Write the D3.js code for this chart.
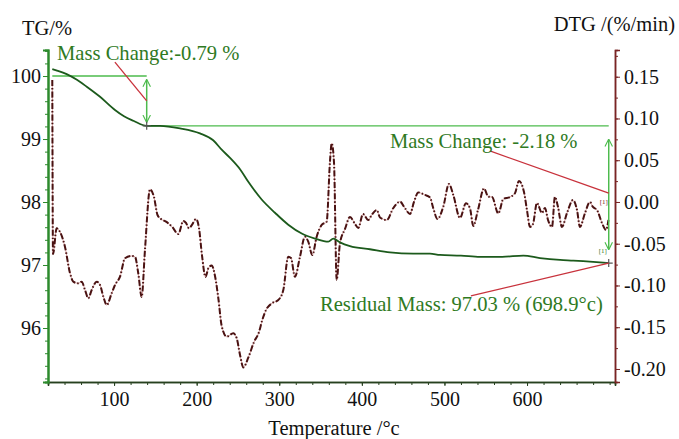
<!DOCTYPE html>
<html>
<head>
<meta charset="utf-8">
<script src="https://cdn.jsdelivr.net/npm/d3@7"></script>
<style>
  html, body { margin: 0; padding: 0; background: #fff; }
  svg { display: block; font-family: "Liberation Serif", "Times New Roman", serif; }
</style>
</head>
<body>
<svg id="chart" width="679" height="439"></svg>
<script>
// Thermogravimetric (TG) curve: temperature (°C) and residual mass (%)
const tgTemp  = [25.2, 30, 42.6, 55, 66.9, 83, 101.1, 112, 123.3, 139.5, 155.6, 179.8, 204, 220, 230.3, 240.4, 252.5, 262.5, 278.7, 294.8, 310.9, 327.2, 343.3, 359.4, 365.4, 373.5, 385.6, 409.8, 434, 462.2, 482.5, 494.6, 520, 543, 570, 595.5, 615.7, 640, 656, 680, 698.9];
const tgValue = [100.11, 100.09, 100.03, 99.94, 99.83, 99.67, 99.46, 99.36, 99.29, 99.21, 99.21, 99.17, 99.09, 98.98, 98.83, 98.70, 98.52, 98.32, 98.04, 97.83, 97.64, 97.50, 97.42, 97.37, 97.42, 97.36, 97.30, 97.25, 97.20, 97.18, 97.18, 97.16, 97.15, 97.13, 97.13, 97.15, 97.11, 97.08, 97.07, 97.05, 97.03];

// Derivative (DTG) curve: temperature (°C) and mass-loss rate (%/min)
const dtgTemp  = [25.2, 26.05, 30.5, 34.5, 40.6, 46.6, 50.6, 56.7, 60.8, 64.8, 68.8, 72.9, 79.0, 83.0, 87.0, 91.1, 97.1, 101.1, 107.2, 113.2, 121.3, 125.3, 129.3, 133.4, 137.4, 143.5, 148.3, 152.6, 156.8, 162.9, 170.1, 177.8, 183.8, 187.1, 190.7, 194.3, 199.2, 202.8, 206.4, 210.7, 214.3, 218.2, 222.2, 226.2, 230.3, 236.4, 244.3, 248.5, 252.5, 256.5, 262.6, 269.4, 275.5, 279.1, 284.0, 291.2, 298.8, 304.9, 310.9, 314.2, 319.0, 325.1, 331.1, 335.1, 340.0, 345.3, 351.4, 357.4, 361.4, 363.5, 366.3, 369.5, 373.5, 379.6, 385.6, 391.7, 395.7, 401.4, 407.8, 411.9, 418.0, 422.0, 430.1, 438.1, 446.2, 452.2, 458.3, 463.1, 468.3, 476.4, 482.5, 486.5, 491.6, 498.6, 505.5, 510.7, 518.8, 526.1, 530.9, 534.9, 540.6, 547.9, 553.1, 557.6, 565.2, 571.3, 579.4, 585.4, 590.2, 596.3, 599.9, 603.6, 607.2, 612.0, 618.1, 621.7, 625.4, 630.2, 633.8, 637.5, 642.3, 648.4, 655.6, 660.5, 664.1, 670.2, 676.2, 679.8, 684.7, 690.7, 695.6, 698.6];
const dtgValue = [0.146, -0.0623, -0.0315, -0.0359, -0.0539, -0.0850, -0.0954, -0.0974, -0.0954, -0.1054, -0.1153, -0.1054, -0.0954, -0.0994, -0.1134, -0.1234, -0.1093, -0.0994, -0.0895, -0.0674, -0.0647, -0.0655, -0.0854, -0.1138, -0.0575, 0.0152, 0.0060, -0.0156, -0.0204, -0.0236, -0.0296, -0.0383, -0.0228, -0.0251, -0.0315, -0.0275, -0.0204, -0.0311, -0.0635, -0.0898, -0.0790, -0.0760, -0.0886, -0.1150, -0.1485, -0.1613, -0.1572, -0.1632, -0.1832, -0.1982, -0.1862, -0.1677, -0.1557, -0.1425, -0.1293, -0.1213, -0.1174, -0.1054, -0.0655, -0.0671, -0.0895, -0.0655, -0.0416, -0.0475, -0.0635, -0.0416, -0.0275, -0.0236, 0.0483, 0.0703, 0.0467, -0.0934, -0.0495, -0.0323, -0.0180, -0.0263, -0.0311, -0.0144, -0.0216, -0.0156, -0.0096, -0.0186, -0.0216, -0.0072, 0.0004, -0.0075, -0.0144, 0.0000, 0.0114, 0.0084, 0.0054, -0.0075, -0.0204, -0.0056, 0.0216, 0.0084, -0.0192, -0.0016, -0.0075, -0.0287, -0.0096, 0.0162, 0.0063, 0.0060, -0.0138, 0.0036, 0.0060, 0.0104, 0.0251, 0.0120, -0.0096, -0.0299, -0.0263, -0.0012, -0.0132, -0.0072, -0.0216, -0.0299, 0.0060, -0.0060, -0.0299, -0.0132, 0.0024, -0.0096, -0.0299, -0.0132, 0.0000, -0.0060, -0.0096, -0.0251, -0.0335, -0.0216];

// Axis ticks
const xTicks = [100, 200, 300, 400, 500, 600];
const tgTicks = [96, 97, 98, 99, 100];
const dtgTicks = [-0.20, -0.15, -0.10, -0.05, 0.00, 0.05, 0.10, 0.15];

// Mass-change analysis
const stepStart = 100.0;        // reference level at start
const stepTemp1 = 139.5;        // end of first step (°C)
const stepMass1 = 99.21;        // mass after first step (%)
const endTemp = 698.9;          // final temperature (°C)
const endMass = 97.03;          // residual mass (%)
const labelChange1 = "Mass Change:-0.79 %";
const labelChange2 = "Mass Change: -2.18 %";
const labelResidual = "Residual Mass: 97.03 % (698.9°c)";

const svg = d3.select("#chart");
const plotL = 48, plotR = 615, plotT = 50, plotB = 382;

const x = d3.scaleLinear().domain([20, 706.5]).range([plotL, plotR]);
const yTG = d3.scaleLinear().domain([95.143, 100.413]).range([plotB, plotT]);
const yDTG = d3.scaleLinear().domain([-0.2156, 0.182]).range([plotB, plotT]);

const green = "#2f7a1f", brightGreen = "#4dbb4d", tgColor = "#1c5a1c";
const dtgColor = "#4a1212", axisRed = "#7a2424", leadRed = "#c8323c";
const fs = 20;

// ---- Axes ----
function styleAxis(g, color, width) {
  g.select(".domain").attr("stroke", color).attr("stroke-width", width);
  g.selectAll(".tick line").attr("stroke", color);
  g.selectAll(".tick text").attr("fill", "#111").attr("font-size", fs)
    .attr("font-family", "Liberation Serif, Times New Roman, serif");
}

// bottom
const xMinor = d3.range(20, 707, 20);
svg.append("g").attr("transform", `translate(0,${plotB})`)
  .call(d3.axisBottom(x).tickValues(xMinor).tickSize(3).tickFormat(""))
  .call(g => styleAxis(g, "#27401f", 1.5));
svg.append("g").attr("transform", `translate(0,${plotB})`)
  .call(d3.axisBottom(x).tickValues(xTicks).tickSize(4).tickPadding(6).tickFormat(d3.format("d")))
  .call(g => styleAxis(g, "#27401f", 1.5));

// left (TG)
const tgMinor = d3.range(95.2, 100.41, 0.2);
svg.append("g").attr("transform", `translate(${plotL},0)`)
  .call(d3.axisLeft(yTG).tickValues(tgMinor).tickSize(3).tickFormat(""))
  .call(g => styleAxis(g, "#2d8a2d", 2));
svg.append("g").attr("transform", `translate(${plotL},0)`)
  .call(d3.axisLeft(yTG).tickValues(tgTicks).tickSize(5).tickPadding(2).tickFormat(d3.format("d")))
  .call(g => styleAxis(g, "#2d8a2d", 2));

// right (DTG)
const dtgMinor = d3.range(-0.2, 0.181, 0.025);
svg.append("g").attr("transform", `translate(${plotR},0)`)
  .call(d3.axisRight(yDTG).tickValues(dtgMinor).tickSize(3).tickFormat(""))
  .call(g => styleAxis(g, axisRed, 1.5));
svg.append("g").attr("transform", `translate(${plotR},0)`)
  .call(d3.axisRight(yDTG).tickValues(dtgTicks).tickSize(5).tickPadding(4)
        .tickFormat(d => d3.format(".2f")(d).replace("−", "-")))
  .call(g => styleAxis(g, axisRed, 1.5));

// ---- Axis titles ----
svg.append("text").attr("x", 22).attr("y", 35).attr("font-size", 20.5).attr("fill", "#111").text("TG/%");
svg.append("text").attr("x", 675).attr("y", 31).attr("text-anchor", "end").attr("font-size", 20.5).attr("fill", "#111").text("DTG /(%/min)");
svg.append("text").attr("x", 334).attr("y", 435).attr("text-anchor", "middle").attr("font-size", 20.5).attr("fill", "#111").text("Temperature /°c");

// ---- Reference levels ----
svg.append("line").attr("x1", x(tgTemp[0])).attr("x2", x(stepTemp1))
  .attr("y1", yTG(stepStart)).attr("y2", yTG(stepStart))
  .attr("stroke", brightGreen).attr("stroke-width", 1.3);
svg.append("line").attr("x1", x(stepTemp1)).attr("x2", x(endTemp))
  .attr("y1", yTG(stepMass1)).attr("y2", yTG(stepMass1))
  .attr("stroke", brightGreen).attr("stroke-width", 1.3);

// ---- DTG curve (dash-dot) ----
const dtgData = dtgTemp.map((t, i) => [t, dtgValue[i]]);
const dtgLine = d3.line().x(d => x(d[0])).y(d => yDTG(d[1])).curve(d3.curveMonotoneX);
svg.append("path").attr("d", dtgLine(dtgData)).attr("fill", "none")
  .attr("stroke", "#d9a0a0").attr("stroke-width", 1);
svg.append("path").attr("d", dtgLine(dtgData)).attr("fill", "none")
  .attr("stroke", dtgColor).attr("stroke-width", 2)
  .attr("stroke-dasharray", "6,2,1.5,2");

// ---- TG curve ----
const tgData = tgTemp.map((t, i) => [t, tgValue[i]]);
const tgLine = d3.line().x(d => x(d[0])).y(d => yTG(d[1])).curve(d3.curveMonotoneX);
svg.append("path").attr("d", tgLine(tgData)).attr("fill", "none")
  .attr("stroke", tgColor).attr("stroke-width", 1.8);

// ---- Double-headed arrows ----
const defs = svg.append("defs");
["s", "e"].forEach(k => {
  defs.append("marker").attr("id", "arr" + k).attr("viewBox", "0 0 10 10")
    .attr("refX", 9).attr("refY", 5).attr("markerWidth", 5).attr("markerHeight", 6)
    .attr("orient", k === "s" ? "auto-start-reverse" : "auto")
    .append("path").attr("d", "M0,0 L10,5 L0,10").attr("fill", "none")
    .attr("stroke", brightGreen).attr("stroke-width", 1.5);
});
function arrow(t, v0, v1, inset) {
  const ya = yTG(v0) + inset, yb = yTG(v1) - inset;
  svg.append("line").attr("x1", x(t)).attr("x2", x(t)).attr("y1", ya).attr("y2", yb)
    .attr("stroke", brightGreen).attr("stroke-width", 1.5)
    .attr("marker-start", "url(#arrs)").attr("marker-end", "url(#arre)");
}
arrow(stepTemp1, stepStart, stepMass1, 4);
arrow(endTemp, stepMass1, endMass, 14);

// ---- Cross markers ----
[[stepTemp1, stepMass1], [endTemp, endMass]].forEach(([t, v]) => {
  const cx = x(t), cy = yTG(v);
  svg.append("path").attr("d", `M${cx - 4},${cy}H${cx + 4}M${cx},${cy - 4}V${cy + 4}`)
    .attr("stroke", "#555").attr("stroke-width", 1.2);
});

// ---- Leader lines ----
function leader(t0, v0, t1, v1) {
  svg.append("line").attr("x1", x(t0)).attr("y1", yTG(v0)).attr("x2", x(t1)).attr("y2", yTG(v1))
    .attr("stroke", leadRed).attr("stroke-width", 1.3);
}
leader(101, 100.22, stepTemp1, (stepStart + stepMass1) / 2);
leader(555, 98.81, endTemp, 98.14);
leader(532, 96.51, endTemp, endMass);

// ---- Annotation labels ----
function label(t, v, txt) {
  svg.append("text").attr("x", x(t)).attr("y", yTG(v)).attr("font-size", 20.6)
    .attr("fill", green).text(txt);
}
label(30.9, 100.25, labelChange1);
label(434, 98.86, labelChange2);
label(349.3, 96.27, labelResidual);

// small step markers
svg.append("text").attr("x", x(endTemp) - 5).attr("y", yDTG(0.0) + 2).attr("font-size", 7)
  .attr("fill", axisRed).attr("text-anchor", "middle").text("[1]");
svg.append("text").attr("x", x(endTemp) - 6).attr("y", yTG(endMass) - 10).attr("font-size", 7)
  .attr("fill", green).attr("text-anchor", "middle").text("[1]");
</script>
</body>
</html>
